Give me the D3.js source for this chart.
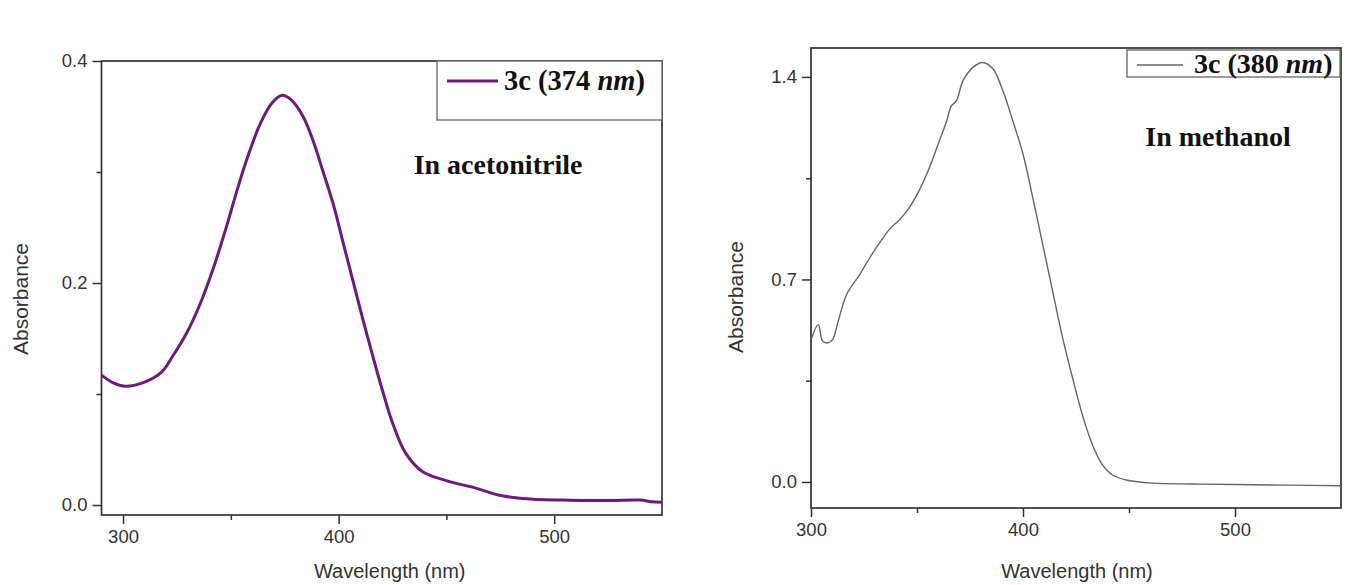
<!DOCTYPE html>
<html>
<head>
<meta charset="utf-8">
<script src="https://cdn.jsdelivr.net/npm/d3@7"></script>
<style>
    body { margin: 0; background: #fff; }
    svg { display: block; }
    .tick text { font-family: "Liberation Sans", Arial, sans-serif; fill: #333; }
    .domain { display: none; }
    .tick line { stroke: #333; stroke-width: 1.5; }
</style>
</head>
<body>
<div id="plot"></div>
<script>
// Acetonitrile spectrum (left panel).
var acnWavelength = [290, 295.5, 301, 309, 318, 323, 329.5, 335.5, 342, 348, 352.5, 357, 363.5, 369, 373.5,
    378, 383.5, 388, 392.5, 397.5, 402, 406.5, 411, 416, 420.5, 425, 431, 439, 450, 464, 474, 484, 492,
    504, 524, 540, 545, 550];
var acnAbsorbance = [0.117, 0.110, 0.107, 0.110, 0.120, 0.134, 0.155, 0.180, 0.214, 0.251, 0.281, 0.309,
    0.343, 0.362, 0.369, 0.365, 0.350, 0.329, 0.302, 0.271, 0.237, 0.203, 0.169, 0.133, 0.102, 0.074,
    0.047, 0.030, 0.022, 0.015, 0.009, 0.006, 0.005, 0.0045, 0.004, 0.0045, 0.003, 0.0025];

// Methanol spectrum (right panel).
var meoWavelength = [300, 303.4, 305.5, 308, 310.2, 312.8, 316.8, 323, 327.7, 332.4, 337, 342, 345.8,
    350.5, 355.2, 360, 364, 366.2, 368.6, 371.7, 376.4, 381, 385.8, 390.5, 395.2, 400, 404.6, 409.3,
    414, 418.7, 423.4, 428, 432.8, 437.5, 442.2, 449.2, 461, 480, 500, 524, 550];
var meoAbsorbance = [0.49, 0.544, 0.486, 0.481, 0.492, 0.555, 0.648, 0.717, 0.775, 0.827, 0.873, 0.908,
    0.942, 1.0, 1.075, 1.168, 1.248, 1.30, 1.318, 1.387, 1.433, 1.45, 1.428, 1.352, 1.248, 1.133, 0.983,
    0.821, 0.659, 0.498, 0.359, 0.232, 0.128, 0.059, 0.024, 0.006, -0.004, -0.007, -0.009, -0.011, -0.013];

// Ticks.
var xMajor = [300, 400, 500], xMinor = [350, 450];
var acnYMajor = [0.0, 0.2, 0.4], acnYMinor = [0.1, 0.3];
var meoYMajor = [0.0, 0.7, 1.4], meoYMinor = [0.35, 1.05];

// Labels.
var xTitle = "Wavelength (nm)", yTitle = "Absorbance";
var acnLegend = ["3c (374 ", "nm", ")"], meoLegend = ["3c (380 ", "nm", ")"];
var acnNote = "In acetonitrile", meoNote = "In methanol";

var width = 1347, height = 585;

var svg = d3.select("div#plot").append("svg")
    .attr("width", width).attr("height", height);

function draw_panel(p) {
    var x = d3.scaleLinear().domain(p.xDomain).range([p.left, p.right]);
    var y = d3.scaleLinear().domain(p.yDomain).range([p.bottom, p.top]);
    var g = svg.append("g");

    // Ticks: majors with labels, minors without.
    g.append("g").attr("transform", "translate(0," + p.bottom + ")")
        .call(d3.axisBottom(x).tickValues(xMajor).tickSize(9).tickPadding(6).tickFormat(d3.format("d")))
        .selectAll("text").style("font-size", "18.5px");
    g.append("g").attr("transform", "translate(0," + p.bottom + ")")
        .call(d3.axisBottom(x).tickValues(xMinor).tickSize(5).tickFormat(""));
    g.append("g").attr("transform", "translate(" + p.left + ",0)")
        .call(d3.axisLeft(y).tickValues(p.yMajor).tickSize(9).tickPadding(5).tickFormat(d3.format(".1f")))
        .selectAll("text").style("font-size", "18.5px");
    g.append("g").attr("transform", "translate(" + p.left + ",0)")
        .call(d3.axisLeft(y).tickValues(p.yMinor).tickSize(5).tickFormat(""));

    // Frame.
    g.append("rect")
        .attr("x", p.left).attr("y", p.top)
        .attr("width", p.right - p.left).attr("height", p.bottom - p.top)
        .style("fill", "none").style("stroke", "#333").style("stroke-width", 1.7);

    // Spectrum.
    var line = d3.line()
        .x(d => x(d[0])).y(d => y(d[1]))
        .curve(d3.curveCatmullRom.alpha(0.5));
    g.append("path")
        .datum(d3.zip(p.wl, p.abs))
        .attr("d", line)
        .style("fill", "none")
        .style("stroke", p.color)
        .style("stroke-width", p.lineWidth)
        .style("stroke-linejoin", "round");

    // Axis titles.
    g.append("text")
        .attr("x", (p.left + p.right) / 2 + p.xTitleShift).attr("y", 578)
        .attr("text-anchor", "middle")
        .style("font-family", "Liberation Sans, Arial, sans-serif")
        .style("font-size", "20px").style("fill", "#333")
        .text(xTitle);
    g.append("text")
        .attr("transform", "translate(" + p.yTitleX + "," + p.yTitleY + ") rotate(-90)")
        .attr("text-anchor", "middle")
        .style("font-family", "Liberation Sans, Arial, sans-serif")
        .style("font-size", "21px").style("fill", "#333")
        .text(yTitle);

    // Legend box.
    var lg = p.legend;
    g.append("rect")
        .attr("x", lg.x0).attr("y", lg.y0)
        .attr("width", lg.x1 - lg.x0).attr("height", lg.y1 - lg.y0)
        .style("fill", "#fff").style("stroke", "#666").style("stroke-width", 1.3);
    g.append("line")
        .attr("x1", lg.lx0).attr("x2", lg.lx1).attr("y1", lg.ly).attr("y2", lg.ly)
        .style("stroke", p.color).style("stroke-width", p.lineWidth);
    var t = g.append("text")
        .attr("x", lg.tx).attr("y", lg.ty)
        .style("font-family", "Liberation Serif, Times New Roman, serif")
        .style("font-weight", "bold").style("font-size", lg.size + "px").style("fill", "#111");
    t.append("tspan").text(p.legendText[0]);
    t.append("tspan").style("font-style", "italic").text(p.legendText[1]);
    t.append("tspan").text(p.legendText[2]);

    // Solvent note.
    g.append("text")
        .attr("x", p.note.x).attr("y", p.note.y)
        .attr("text-anchor", "middle")
        .style("font-family", "Liberation Serif, Times New Roman, serif")
        .style("font-weight", "bold").style("font-size", "28px").style("fill", "#111")
        .text(p.noteText);
}

draw_panel({
    wl: acnWavelength, abs: acnAbsorbance,
    xDomain: [290, 550], yDomain: [-0.009, 0.4],
    left: 101.5, right: 662, top: 61, bottom: 515,
    yMajor: acnYMajor, yMinor: acnYMinor,
    color: "#6e1a7c", lineWidth: 3,
    xTitleShift: 8, yTitleX: 28, yTitleY: 299,
    legend: {x0: 437, x1: 662, y0: 61, y1: 120, lx0: 447, lx1: 498, ly: 81, tx: 504, ty: 90, size: 28.5},
    legendText: acnLegend,
    note: {x: 498, y: 174}, noteText: acnNote
});

draw_panel({
    wl: meoWavelength, abs: meoAbsorbance,
    xDomain: [300, 550], yDomain: [-0.09, 1.5],
    left: 811, right: 1341, top: 48, bottom: 508,
    yMajor: meoYMajor, yMinor: meoYMinor,
    color: "#666", lineWidth: 1.4,
    xTitleShift: 1, yTitleX: 743, yTitleY: 297,
    legend: {x0: 1127, x1: 1340, y0: 50, y1: 77, lx0: 1137, lx1: 1183, ly: 65, tx: 1194, ty: 73, size: 28}, 
    legendText: meoLegend,
    note: {x: 1218, y: 146}, noteText: meoNote
});
</script>
</body>
</html>
